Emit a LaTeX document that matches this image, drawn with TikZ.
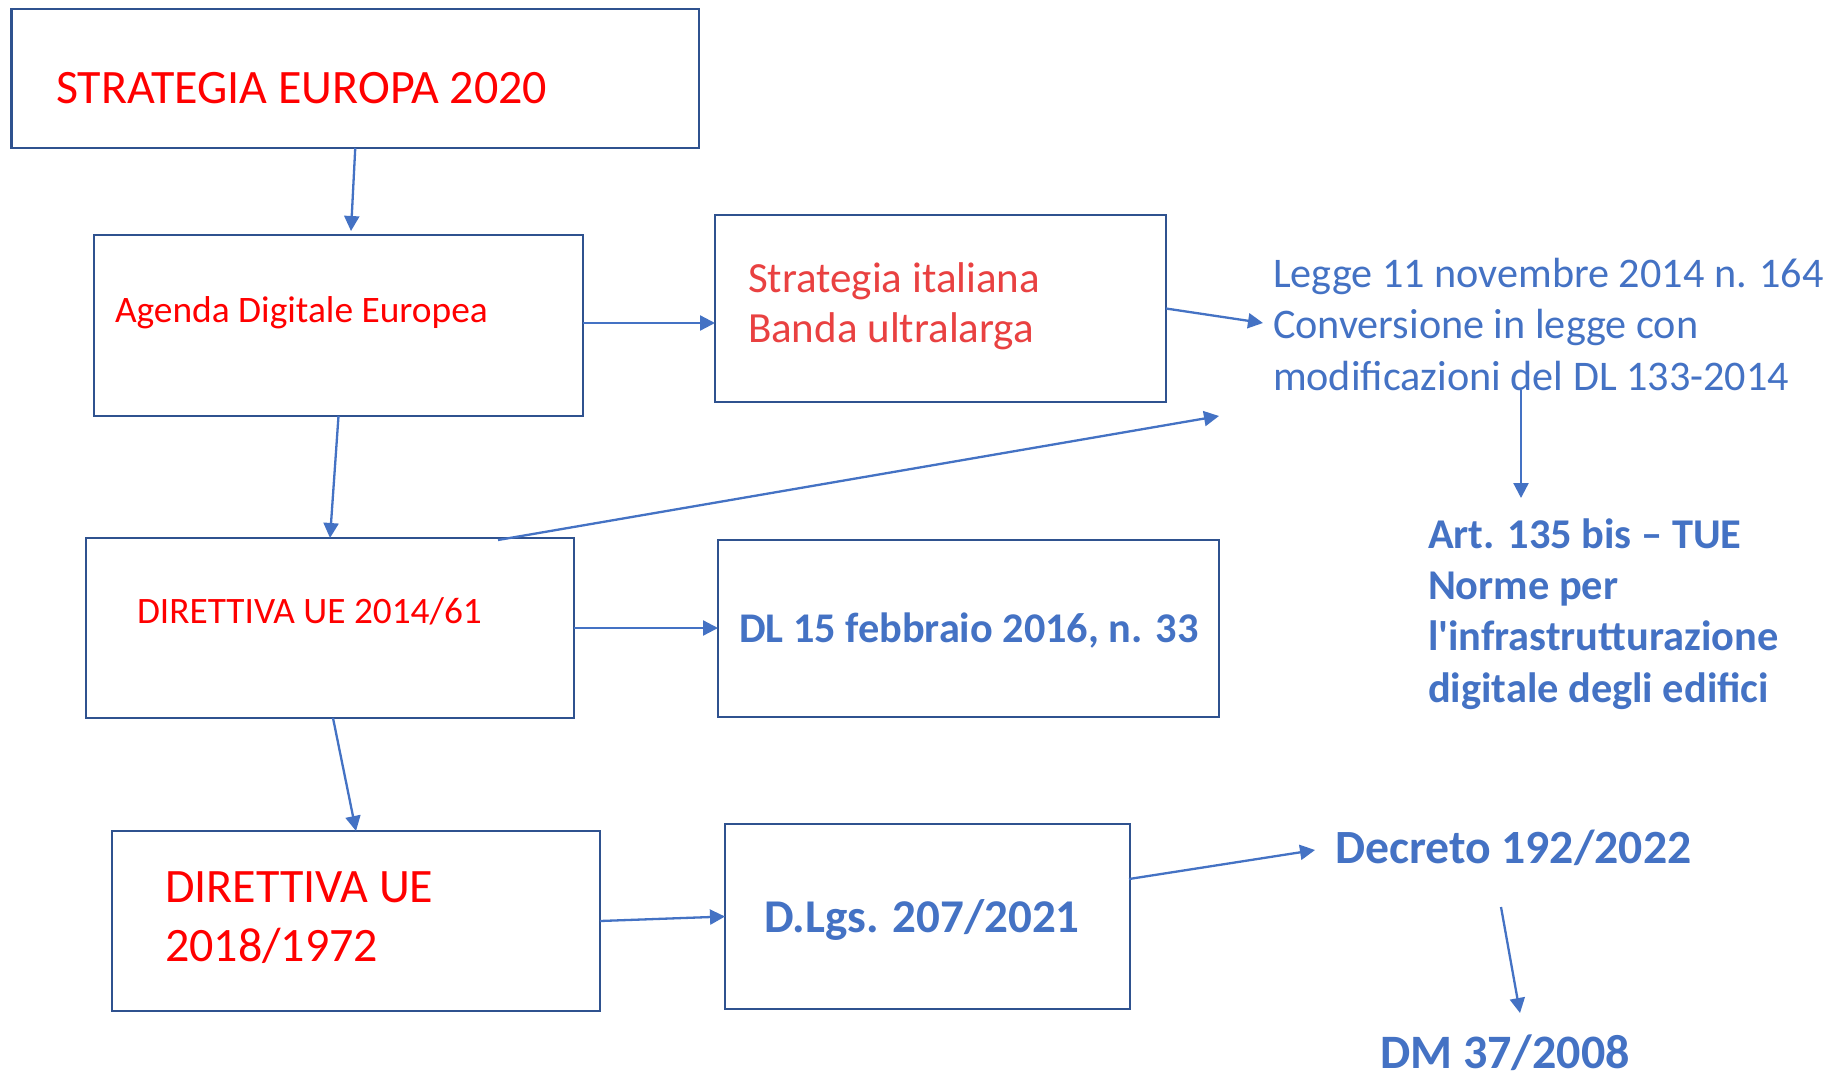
\documentclass[tikz,border=0pt]{standalone}
\usepackage{fontspec}
\setmainfont{Carlito}
\usetikzlibrary{arrows.meta,calc}
\definecolor{boxblue}{HTML}{2F528F}
\definecolor{arrblue}{HTML}{4472C4}
\definecolor{txtblue}{HTML}{4472C4}
\definecolor{pured}{HTML}{FF0000}
\definecolor{softred}{HTML}{E94141}
\begin{document}
\begin{tikzpicture}[x=1pt,y=-1pt,
  box/.style={draw=boxblue,line width=2.7pt,rectangle,inner sep=0pt,outer sep=0pt},
  lbl/.style={anchor=base west,inner sep=0pt,outer sep=0pt,align=left},
  arr/.style={draw=arrblue,line width=2.3pt,-{Triangle[length=15pt,width=15pt]}}
]
\useasboundingbox (0,0) rectangle (1844,1074);
\fill[white] (0,0) rectangle (1844,1074);

% boxes
\node[box,minimum width=687.5pt,minimum height=139pt] (b1) at (355.25,78.5) {};
\node[box,minimum width=489pt,minimum height=181pt] (b2) at (338.5,325.5) {};
\node[box,minimum width=451pt,minimum height=187pt] (b3) at (940.5,308.5) {};
\node[box,minimum width=488pt,minimum height=180pt] (b4) at (330,628) {};
\node[box,minimum width=501pt,minimum height=177pt] (b5) at (968.5,628.5) {};
\node[box,minimum width=488pt,minimum height=180pt] (b6) at (356,921) {};
\node[box,minimum width=405pt,minimum height=185pt] (b7) at (927.5,916.5) {};

% texts in boxes (multi-line nodes: base = last line)
\node[lbl,text=pured,font=\fontsize{48}{56}\selectfont] (t1) at (56,103) {STRATEGIA EUROPA 2020};
\node[lbl,text=pured,font=\fontsize{37.4}{46}\selectfont] (t2) at (115,322) {Agenda Digitale Europea};
\node[lbl,text=softred,font=\fontsize{43}{50}\selectfont] (t3) at (748,342) {Strategia italiana\\Banda ultralarga};
\node[lbl,text=pured,font=\fontsize{37.3}{44}\selectfont] (t4) at (137,623) {DIRETTIVA UE 2014/61};
\node[lbl,text=txtblue,font=\fontsize{42.3}{50}\selectfont\bfseries] (t5) at (739,642) {DL 15 febbraio 2016, n. 33};
\node[lbl,text=pured,font=\fontsize{48}{59}\selectfont] (t6) at (165,961) {DIRETTIVA UE\\2018/1972};
\node[lbl,text=txtblue,font=\fontsize{47}{56}\selectfont\bfseries] (t7) at (764,932) {D.Lgs. 207/2021};

% free texts
\node[lbl,text=txtblue,font=\fontsize{42.2}{51.5}\selectfont] (legge) at (1273,390) {Legge 11 novembre 2014 n. 164\\Conversione in legge con\\modificazioni del DL 133-2014};
\node[lbl,text=txtblue,font=\fontsize{42.4}{51.3}\selectfont\bfseries] (art) at (1428,702) {Art. 135 bis – TUE\\Norme per\\l\textquotesingle infrastrutturazione\\digitale degli edifici};
\node[lbl,text=txtblue,font=\fontsize{47.7}{56}\selectfont\bfseries] (dec) at (1335,863) {Decreto 192/2022};
\node[lbl,text=txtblue,font=\fontsize{48}{56}\selectfont\bfseries] (dm) at (1380,1068) {DM 37/2008};

% free connector ends
\coordinate (c1) at (351,231);
\coordinate (c3) at (1263,323);
\coordinate (c5a) at (498,540);
\coordinate (c5b) at (1219,416);
\coordinate (c9a) at (1129,879);
\coordinate (c9b) at (1315,850);
\coordinate (c10a) at (1521,390);
\coordinate (c10b) at (1521,498);
\coordinate (c11a) at (1501,907);
\coordinate (c11b) at (1520,1013);

% connectors
\draw[arr] (b1.south) -- (c1);
\draw[arr] (b2.east |- 0,323) -- (b3.west |- 0,323);
\draw[arr] (b3.east) -- (c3);
\draw[arr] (b2.south) -- (b4.north);
\draw[arr] (c5a) -- (c5b);
\draw[arr] (b4.east) -- (b5.west |- b4.east);
\draw[arr] ($(b4.south)+(3,0)$) -- (b6.north);
\draw[arr] (b6.east) -- (b7.west);
\draw[arr] (c9a) -- (c9b);
\draw[arr] (c10a) -- (c10b);
\draw[arr] (c11a) -- (c11b);
\end{tikzpicture}
\end{document}
